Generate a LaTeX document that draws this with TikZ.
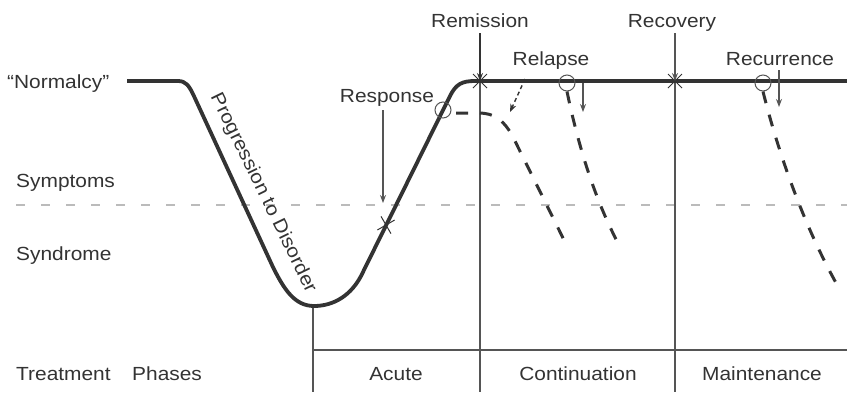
\documentclass[tikz,border=0pt]{standalone}
\usepackage{fontspec}
\setmainfont[FakeStretch=1.1]{Liberation Sans}
\usetikzlibrary{arrows.meta,shapes.misc}
\definecolor{ink}{HTML}{333333}
\definecolor{rulec}{HTML}{555555}
\definecolor{faint}{HTML}{BBBBBB}
\begin{document}
\begin{tikzpicture}[x=1pt,y=-1pt,
  lbl/.style={font=\fontsize{19}{22}\selectfont, text=ink, inner sep=0pt},
  maincurve/.style={line width=3.8pt, draw=ink, line join=round},
  rulel/.style={line width=1.4pt, draw=rulec},
  arr/.style={line width=1.2pt, draw=rulec, -{Stealth[length=8pt,width=6pt]}},
  dasharr/.style={arr, draw=ink, line width=1.4pt, dash pattern=on 4pt off 3pt},
  fall/.style={line width=3pt, draw=ink, dash pattern=on 12pt off 12pt},
  xcross/.style={draw=ink, line width=1pt, cross out, minimum size=13pt, inner sep=0pt},
  ring/.style={draw=rulec, line width=1pt, circle, minimum size=16pt, inner sep=0pt},
  symline/.style={line width=1.4pt, draw=faint, dash pattern=on 9pt off 16pt}
]
\useasboundingbox (0,0) rectangle (847,392);

% level labels
\node[lbl, anchor=base west] (normT) at (7,88) {“Normalcy”};
\node[lbl, anchor=base west] (sympT) at (16,187) {Symptoms};
\node[lbl, anchor=base west] (syndT) at (16,260) {Syndrome};
\node[lbl, anchor=base west] (treatT) at (16,380) {Treatment};
\node[lbl, anchor=base west] (phaseT) at (132,380) {Phases};

% symptom threshold
\coordinate (sL) at (16,205);
\coordinate (sR) at (847,205);
\draw[symline] (sL) -- (sR);

% phase grid
\coordinate (b0) at (313,306);
\coordinate (b0e) at (313,392);
\coordinate (rem) at (480,81);
\coordinate (reme) at (480,392);
\coordinate (rec) at (675,81);
\coordinate (rece) at (675,392);
\coordinate (hL) at (313,350);
\coordinate (hR) at (847,350);
\draw[rulel] (b0) -- (b0e);
\draw[rulel] (rem) -- (reme);
\draw[rulel] (rec) -- (rece);
\draw[rulel] (hL) -- (hR);

\node[lbl, anchor=base] (acuteT) at (396,380) {Acute};
\node[lbl, anchor=base] (contT) at (578,380) {Continuation};
\node[lbl, anchor=base] (maintT) at (762,380) {Maintenance};

% main course
\draw[maincurve] (127,81) -- (178,81) .. controls (186,81) and (189,86) .. (193,94)
  -- (272,265) .. controls (284,290) and (295,306) .. (314,306)
  .. controls (333,306) and (352,296) .. (363,272)
  -- (450,96) .. controls (456,84) and (462,81) .. (475,81) -- (847,81);

\node[lbl, rotate=-64] (progT) at (263,193) {Progression to Disorder};

% marks
\node[xcross, rotate=-15] (xresp) at (386,225) {};
\node[xcross] (xrem) at (480,81) {};
\node[xcross] (xrec) at (675,81) {};
\node[ring] (c1) at (443,110) {};
\node[ring] (c2) at (567,83) {};
\node[ring] (c3) at (763,83) {};

% top labels and arrows
\node[lbl, anchor=base] (remT) at (480,27) {Remission};
\node[lbl, anchor=base] (recT) at (672,27) {Recovery};
\node[lbl, anchor=base] (relT) at (551,65) {Relapse};
\node[lbl, anchor=base] (recuT) at (780,65) {Recurrence};
\node[lbl, anchor=base] (respT) at (387,102) {Response};

\coordinate (remA) at (480,33);
\coordinate (recA) at (675,33);
\draw[arr, draw=ink] (remA) -- (xrem.center);
\draw[arr] (recA) -- (xrec.center);

\coordinate (respA) at (383,110);
\coordinate (respB) at (383,203);
\draw[arr] (respA) -- (respB);

\coordinate (rl1a) at (525,79);
\coordinate (rl1b) at (510,112);
\draw[dasharr] (rl1a) -- (rl1b);
\coordinate (rl2a) at (583,83);
\coordinate (rl2b) at (583,112);
\draw[arr] (rl2a) -- (rl2b);
\coordinate (rcA) at (779,70);
\coordinate (rcB) at (779,107);
\draw[arr] (rcA) -- (rcB);

% relapse / recurrence courses
\coordinate (d1a) at (456,113);
\coordinate (d1e) at (565,242);
\draw[fall] (d1a) -- (478,113) .. controls (495,113) and (503,120) .. (512,135) -- (d1e);
\coordinate (d2e) at (618,243);
\draw[fall] (c2.south) .. controls (575,130) and (590,190) .. (d2e);
\coordinate (d3e) at (840,290);
\draw[fall] (c3.south) .. controls (775,140) and (800,220) .. (d3e);
\end{tikzpicture}
\end{document}
